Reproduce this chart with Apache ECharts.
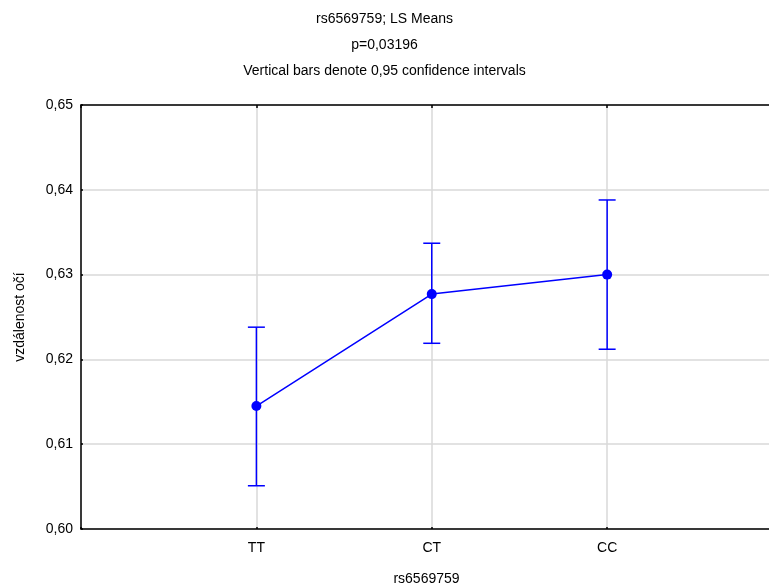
<!DOCTYPE html>
<html>
<head>
<meta charset="utf-8">
<script src="https://cdn.jsdelivr.net/npm/echarts@6/dist/echarts.min.js"></script>
<style>
  html, body { margin: 0; padding: 0; background: #fff; }
  #chart-main { width: 769px; height: 588px; }
</style>
</head>
<body>
<div id="chart-main"></div>
<script>
    // LS means with 0,95 confidence intervals
    var categories = ['TT', 'CT', 'CC'];
    var means = [0.6145, 0.6277, 0.6300];
    var ciLow = [0.6051, 0.6219, 0.6212];
    var ciHigh = [0.6238, 0.6337, 0.6388];
    var yTicks = [0.60, 0.61, 0.62, 0.63, 0.64, 0.65];

    var font = 'Liberation Sans, Arial, sans-serif';
    var blue = '#0000ff';

    var linePoints = [];
    var barPoints = [];
    for (var i = 0; i < categories.length; i++) {
        linePoints.push([i + 1, means[i]]);
        barPoints.push([i + 1, ciLow[i], ciHigh[i]]);
    }

    function catLabel(v) {
        var idx = Math.round(v) - 1;
        if (Math.abs(v - Math.round(v)) > 1e-6 || idx < 0 || idx >= categories.length) return '';
        return categories[idx];
    }

    function yLabel(v) {
        return v.toFixed(2).replace('.', ',');
    }

    var option = {
        animation: false,
        backgroundColor: '#fff',
        title: [
            {text: 'rs6569759; LS Means', left: 'center', top: 7,
                textStyle: {fontFamily: font, fontSize: 14, fontWeight: 'normal', color: '#000'}},
            {text: 'p=0,03196', left: 'center', top: 33,
                textStyle: {fontFamily: font, fontSize: 14, fontWeight: 'normal', color: '#000'}},
            {text: 'Vertical bars denote 0,95 confidence intervals', left: 'center', top: 59,
                textStyle: {fontFamily: font, fontSize: 14, fontWeight: 'normal', color: '#000'}}
        ],
        grid: {left: 81, right: -3, top: 105, bottom: 59, containLabel: false, outerBoundsMode: 'none'},
        xAxis: [
            {
                type: 'value',
                min: 0,
                max: 3.94,
                interval: 1,
                name: 'rs6569759',
                nameLocation: 'middle',
                nameGap: 43,
                nameTextStyle: {fontFamily: font, fontSize: 14, color: '#000'},
                axisLine: {show: true, onZero: false, lineStyle: {color: '#000', width: 1.5}},
                axisTick: {show: true, inside: true, length: 2, lineStyle: {color: '#000', width: 1.5}},
                axisLabel: {fontFamily: font, fontSize: 14, color: '#000', margin: 12, formatter: catLabel},
                splitLine: {show: true, lineStyle: {color: '#d9d9d9', width: 1.5}}
            },
            {
                type: 'value',
                position: 'top',
                min: 0,
                max: 3.94,
                interval: 1,
                axisLine: {show: true, lineStyle: {color: '#000', width: 1.5}},
                axisTick: {show: true, inside: true, length: 3, lineStyle: {color: '#000', width: 1.5}},
                axisLabel: {show: false},
                splitLine: {show: false}
            }
        ],
        yAxis: {
            type: 'value',
            min: yTicks[0],
            max: yTicks[yTicks.length - 1],
            interval: 0.01,
            name: 'vzdálenost očí',
            nameLocation: 'middle',
            nameGap: 54,
            nameTextStyle: {fontFamily: font, fontSize: 14, color: '#000'},
            axisLine: {show: true, lineStyle: {color: '#000', width: 1.5}},
            axisTick: {show: true, inside: true, length: 2, lineStyle: {color: '#000', width: 1.5}},
            axisLabel: {fontFamily: font, fontSize: 14, color: '#000', margin: 8, formatter: yLabel},
            splitLine: {show: true, lineStyle: {color: '#d9d9d9', width: 1.5}}
        },
        series: [
            {
                name: 'CI',
                type: 'custom',
                data: barPoints,
                z: 3,
                renderItem: function (params, api) {
                    var x = api.value(0);
                    var lo = api.coord([x, api.value(1)]);
                    var hi = api.coord([x, api.value(2)]);
                    var half = 8.5;
                    var style = {stroke: blue, lineWidth: 1.5, fill: null};
                    return {
                        type: 'group',
                        children: [
                            {type: 'line', shape: {x1: lo[0], y1: lo[1], x2: hi[0], y2: hi[1]}, style: style},
                            {type: 'line', shape: {x1: lo[0] - half, y1: lo[1], x2: lo[0] + half, y2: lo[1]}, style: style},
                            {type: 'line', shape: {x1: hi[0] - half, y1: hi[1], x2: hi[0] + half, y2: hi[1]}, style: style}
                        ]
                    };
                }
            },
            {
                name: 'LS Means',
                type: 'line',
                data: linePoints,
                z: 4,
                symbol: 'circle',
                symbolSize: 10,
                itemStyle: {color: blue},
                lineStyle: {color: blue, width: 1.5}
            }
        ]
    };

    var myChart = echarts.init(document.getElementById('chart-main'));
    myChart.setOption(option);
</script>
</body>
</html>
